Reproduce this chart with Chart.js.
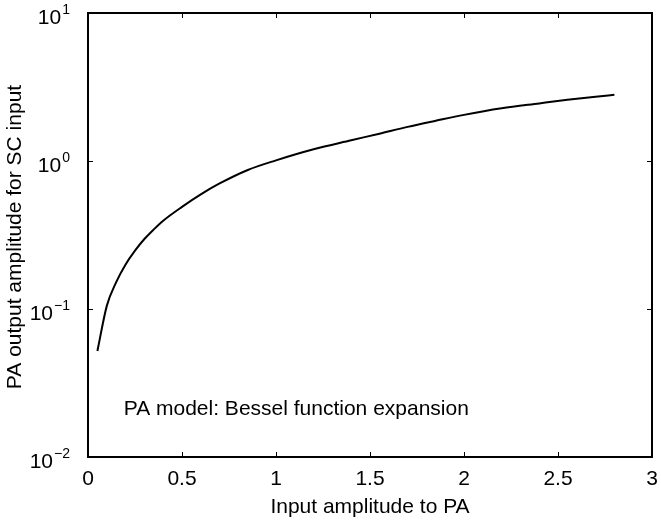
<!DOCTYPE html>
<html>
<head>
<meta charset="utf-8">
<script src="https://cdn.jsdelivr.net/npm/chart.js@4/dist/chart.umd.min.js"></script>
<style>
    html, body { margin: 0; padding: 0; background: #ffffff; }
    #wrap { width: 661px; height: 521px; position: relative; }
</style>
</head>
<body>
<div id="wrap"><canvas id="pa-chart"></canvas></div>
<script>
// Input amplitude (x) and PA output amplitude for SC input (y)
var inputAmp = [0.05, 0.1, 0.15, 0.2, 0.25, 0.3, 0.35, 0.4, 0.5, 0.6, 0.7, 0.85, 1.0, 1.2, 1.4, 1.55, 1.7, 1.85, 2.0, 2.2, 2.4, 2.55, 2.7, 2.8];
var outputAmp = [0.052, 0.105, 0.152, 0.2, 0.248, 0.297, 0.345, 0.395, 0.49, 0.595, 0.705, 0.87, 1.01, 1.20, 1.38, 1.53, 1.70, 1.87, 2.05, 2.27, 2.45, 2.59, 2.72, 2.80];

// Tick labels
var xTicks = [0, 0.5, 1, 1.5, 2, 2.5, 3];
var xTickLabels = ['0', '0.5', '1', '1.5', '2', '2.5', '3'];
var yTicks = [0.01, 0.1, 1, 10];
var yTickExponents = ['\u22122', '\u22121', '0', '1'];

var xTitle = 'Input amplitude to PA';
var yTitle = 'PA output amplitude for SC input';
var noteText = 'PA model: Bessel function expansion';

var FONT = '"Liberation Sans", Arial, Helvetica, sans-serif';

// Draws the box, inward ticks, labels and the note
var frameAxes = {
    id: 'frameAxes',
    afterDatasetsDraw: function(chart) {
        var ctx = chart.ctx;
        var area = chart.chartArea;
        var xs = chart.scales.x;
        var ys = chart.scales.y;
        var tick = 5;

        ctx.save();
        ctx.strokeStyle = '#000000';
        ctx.lineWidth = 1;

        // inward ticks, top and bottom
        xTicks.forEach(function(v) {
            var px = Math.round(xs.getPixelForValue(v)) + 0.5;
            ctx.beginPath();
            ctx.moveTo(px, area.bottom);
            ctx.lineTo(px, area.bottom - tick);
            ctx.moveTo(px, area.top);
            ctx.lineTo(px, area.top + tick);
            ctx.stroke();
        });
        // inward ticks, left and right
        yTicks.forEach(function(v) {
            var py = Math.round(ys.getPixelForValue(v)) + 0.5;
            ctx.beginPath();
            ctx.moveTo(area.left, py);
            ctx.lineTo(area.left + tick, py);
            ctx.moveTo(area.right, py);
            ctx.lineTo(area.right - tick, py);
            ctx.stroke();
        });

        // box
        ctx.lineWidth = 2;
        ctx.strokeRect(area.left, area.top, area.right - area.left, area.bottom - area.top);

        ctx.fillStyle = '#000000';

        // x tick labels
        ctx.font = '21px ' + FONT;
        ctx.textAlign = 'center';
        ctx.textBaseline = 'middle';
        xTicks.forEach(function(v, i) {
            ctx.fillText(xTickLabels[i], xs.getPixelForValue(v), area.bottom + 22);
        });

        // y tick labels as 10 with superscript exponent
        yTicks.forEach(function(v, i) {
            var py = ys.getPixelForValue(v);
            var exp = yTickExponents[i];
            ctx.font = '14px ' + FONT;
            var expW = ctx.measureText(exp).width;
            var right = area.left - 18;
            ctx.textAlign = 'left';
            ctx.textBaseline = 'alphabetic';
            ctx.fillText(exp, right - expW, py + 1);
            ctx.font = '21px ' + FONT;
            ctx.textAlign = 'right';
            ctx.fillText('10', right - expW - 1, py + 11);
        });

        // axis titles
        ctx.font = '21px ' + FONT;
        ctx.textAlign = 'center';
        ctx.textBaseline = 'middle';
        ctx.fillText(xTitle, (area.left + area.right) / 2, area.bottom + 50);

        ctx.save();
        ctx.translate(15, (area.top + area.bottom) / 2 + 2);
        ctx.rotate(-Math.PI / 2);
        ctx.fillText(yTitle, 0, 0);
        ctx.restore();

        // note inside the plot
        ctx.font = '21px ' + FONT;
        ctx.textAlign = 'left';
        ctx.fillText(noteText, xs.getPixelForValue(0.19), ys.getPixelForValue(0.021));

        ctx.restore();
    }
};

var points = inputAmp.map(function(x, i) {
    return { x: x, y: outputAmp[i] };
});

var chartConfig = {
    type: 'scatter',
    data: {
        datasets: [{
            data: points,
            showLine: true,
            borderColor: '#000000',
            borderWidth: 2,
            pointRadius: 0,
            fill: false,
            cubicInterpolationMode: 'monotone'
        }]
    },
    options: {
        responsive: true,
        maintainAspectRatio: false,
        animation: false,
        devicePixelRatio: 1,
        layout: {
            padding: { left: 88, right: 9, top: 13, bottom: 64 }
        },
        plugins: {
            legend: { display: false },
            tooltip: { enabled: false }
        },
        scales: {
            x: {
                type: 'linear',
                min: 0,
                max: 3,
                display: false
            },
            y: {
                type: 'logarithmic',
                min: 0.01,
                max: 10,
                display: false
            }
        }
    },
    plugins: [frameAxes]
};

var paChart = new Chart(document.getElementById('pa-chart').getContext('2d'), chartConfig);
</script>
</body>
</html>
